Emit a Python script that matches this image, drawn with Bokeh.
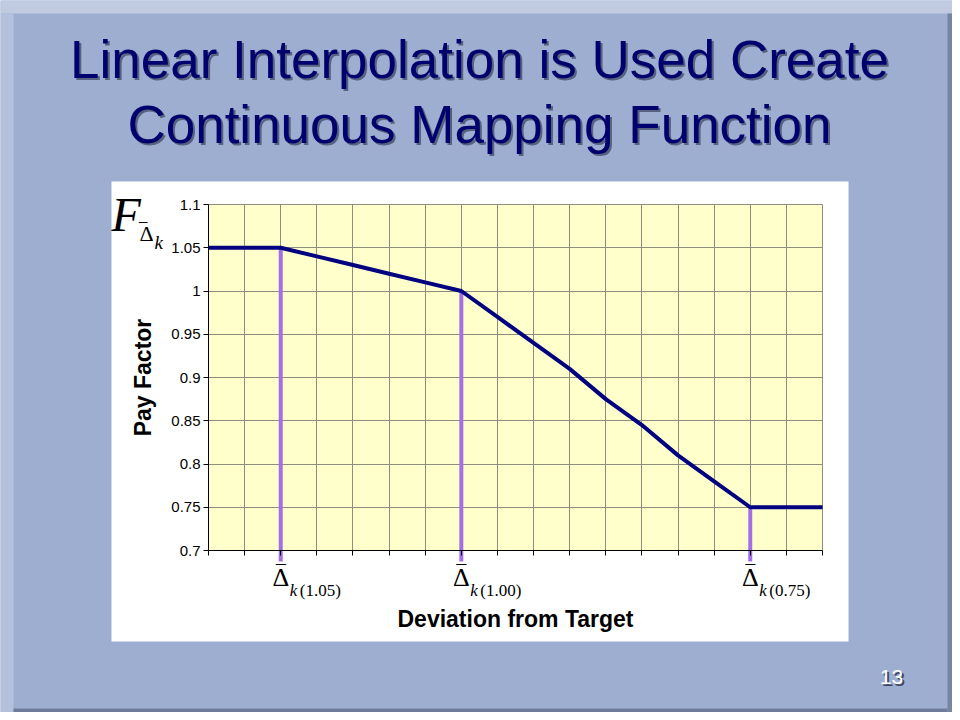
from bokeh.plotting import figure
from bokeh.models import (ColumnDataSource, FixedTicker, BoxAnnotation,
                          LabelSet, Whisker, Range1d)
from bokeh.core.properties import value
from bokeh.embed import file_html
from bokeh.resources import INLINE

# ---------------- data ----------------
deviation_steps = list(range(18))
pay_factor = [1.05, 1.05, 1.05, 1.04, 1.03, 1.02, 1.01, 1.00, 0.97, 0.94,
              0.91, 0.875, 0.845, 0.81, 0.78, 0.75, 0.75, 0.75]
breakpoint_x = [2, 7, 15]
breakpoint_y = [1.05, 1.00, 0.75]
breakpoint_sub = ["(1.05)", "(1.00)", "(0.75)"]
y_ticks = [0.7, 0.75, 0.8, 0.85, 0.9, 0.95, 1.0, 1.05, 1.1]
y_tick_labels = ["0.7", "0.75", "0.8", "0.85", "0.9", "0.95", "1", "1.05", "1.1"]
title_lines = ["Linear Interpolation is Used Create", "Continuous Mapping Function"]
x_title = "Deviation from Target"
y_title = "Pay Factor"
slide_number = "13"

# ---------------- layout / style ----------------
W, H = 952, 712
FL, FR, FT, FB = 208, 822, 204, 550           # plot area (canvas px)
PL, PR, PT, PB = 111, 848, 181, 641           # white chart panel (canvas px)
SLIDE = "#9eaed0"
NAVY = "#00006e"
SHADOW = "#56627e"
PURPLE = "#a46ee8"
GRID = "#8e8e7e"

x0, x1 = deviation_steps[0], deviation_steps[-1]
y0, y1 = y_ticks[0], y_ticks[-1]
kx = (FR - FL) / (x1 - x0)
ky = (FB - FT) / (y1 - y0)

# the frame covers the whole canvas; the data area sits where the plot area is
p = figure(width=W, height=H, output_backend="svg", toolbar_location=None,
           x_range=Range1d(x0 - FL / kx, x1 + (W - FR) / kx),
           y_range=Range1d(y0 - (H - FB) / ky, y1 + FT / ky),
           min_border=0, min_border_left=0, min_border_right=0,
           min_border_top=0, min_border_bottom=0,
           background_fill_color=SLIDE, border_fill_color=SLIDE,
           outline_line_color=None, title=None)


def screen_box(l, r, t, b, color, level="image"):
    # canvas px (top-left origin) -> screen units (bottom-left origin)
    p.add_layout(BoxAnnotation(left=l, right=r, top=H - t, bottom=H - b,
                               left_units="screen", right_units="screen",
                               top_units="screen", bottom_units="screen",
                               fill_color=color, fill_alpha=1, line_color=None,
                               level=level))


# slide bevel edges
screen_box(0, W, 0, 13, "#c0cbe2")
screen_box(0, 13, 13, H, "#b4c1dc")
screen_box(W - 5, W, 13, H, "#7885a2")
screen_box(13, W - 5, H - 4, H, "#6f7c99")
# white chart panel
screen_box(PL, PR, PT, PB, "white")
# yellow plot area (data extent)
p.add_layout(BoxAnnotation(left=x0, right=x1, bottom=y0, top=y1,
                           fill_color="#ffffcc", fill_alpha=1, line_color=None,
                           level="image"))

# axes placed at the data origin
for ax in (p.xaxis, p.yaxis):
    ax.axis_line_color = "black"
    ax.major_tick_line_color = "black"
    ax.major_tick_out = 5
    ax.major_tick_in = 0
    ax.minor_tick_line_color = None
    ax.axis_label_text_color = "black"
    ax.axis_label_text_font = "Liberation Sans"
    ax.axis_label_text_font_style = "bold"
    ax.axis_label_text_font_size = "23px"

p.xaxis.fixed_location = y0
p.xaxis.bounds = (x0, x1)
p.xaxis.ticker = FixedTicker(ticks=deviation_steps)
p.xaxis.major_label_overrides = {t: "" for t in deviation_steps}
p.xaxis.axis_label = x_title
p.xaxis.axis_label_standoff = 50

p.yaxis.fixed_location = x0
p.yaxis.bounds = (y0, y1)
p.yaxis.ticker = FixedTicker(ticks=y_ticks)
p.yaxis.major_label_overrides = {t: s for t, s in zip(y_ticks, y_tick_labels)}
p.yaxis.major_label_text_font = "Liberation Sans"
p.yaxis.major_label_text_font_size = "15px"
p.yaxis.major_label_text_color = "black"
p.yaxis.major_label_standoff = 3
p.yaxis.axis_label = y_title
p.yaxis.axis_label_standoff = 12

# grid limited to the plot area
xg, yg = p.xgrid[0], p.ygrid[0]
xg.ticker = FixedTicker(ticks=deviation_steps)
yg.ticker = FixedTicker(ticks=y_ticks)
manual_grid = "cross_bounds" not in xg.properties()
for g, cb in [(xg, (y0, y1)), (yg, (x0, x1))]:
    g.grid_line_color = GRID
    g.grid_line_width = 1
    if manual_grid:
        g.visible = False
    else:
        g.cross_bounds = cb
if manual_grid:
    p.segment(x0=deviation_steps, y0=[y0] * len(deviation_steps),
              x1=deviation_steps, y1=[y1] * len(deviation_steps),
              line_color=GRID, line_width=1)
    p.segment(x0=[x0] * len(y_ticks), y0=y_ticks, x1=[x1] * len(y_ticks), y1=y_ticks,
              line_color=GRID, line_width=1)

# purple drop lines (reach a little below the axis)
overhang = 11 / ky
drop = ColumnDataSource(dict(x=breakpoint_x, top=breakpoint_y,
                             bottom=[y0 - overhang] * len(breakpoint_x)))
p.add_layout(Whisker(source=drop, base="x", upper="top", lower="bottom",
                     dimension="height", line_color=PURPLE, line_width=4,
                     upper_head=None, lower_head=None, level="underlay"))

# mapping function
p.line(deviation_steps, pay_factor, line_color="#000080", line_width=4)

# labels under the axis
lab = ColumnDataSource(dict(x=breakpoint_x, y=[y0] * len(breakpoint_x),
                            d=["\u0394"] * len(breakpoint_x),
                            bar=["\u203e"] * len(breakpoint_x),
                            k=["k"] * len(breakpoint_x), sub=breakpoint_sub))
serif = value("Liberation Serif")
for field, dx, dy, size, style in [("d", 0, -35, "26px", "normal"),
                                   ("bar", 0, -33, "26px", "normal"),
                                   ("k", 9, -45, "17px", "italic"),
                                   ("sub", 19, -45, "17px", "normal")]:
    p.add_layout(LabelSet(source=lab, x="x", y="y", text=field,
                          x_offset=dx, y_offset=dy,
                          text_align="center" if dx == 0 else "left",
                          text_baseline="alphabetic", text_font=serif,
                          text_font_style=style, text_font_size=value(size),
                          text_color="black"))


def screen_text(x, y, text, font, size, color, align="left", style="normal"):
    # x, y: canvas px of the text baseline (top-left origin)
    src = ColumnDataSource(dict(x=[x], y=[H - y], t=[text]))
    p.add_layout(LabelSet(source=src, x="x", y="y", text="t",
                          x_units="screen", y_units="screen",
                          text_align=align, text_baseline="alphabetic",
                          text_font=value(font), text_font_style=style,
                          text_font_size=value(size), text_color=color))


# F with subscript
screen_text(111, 230, "F", "Liberation Serif", "48px", "black", style="italic")
screen_text(139, 240, "\u0394", "Liberation Serif", "22px", "black")
screen_text(139, 238, "\u203e", "Liberation Serif", "22px", "black")
screen_text(154, 248, "k", "Liberation Serif", "19px", "black", style="italic")

# slide title with shadow
for dx, dy, col in [(2, 2, SHADOW), (0, 0, NAVY)]:
    for i, line in enumerate(title_lines):
        screen_text(479 + dx, 77 + 65 * i + dy, line, "Liberation Sans", "53px",
                    col, align="center")

# slide number
for dx, dy, col in [(2, 2, "#3c4660"), (0, 0, "white")]:
    screen_text(891 + dx, 683 + dy, slide_number, "Liberation Sans", "21px", col,
                align="center")

open("out.html", "w").write(file_html(p, INLINE))
